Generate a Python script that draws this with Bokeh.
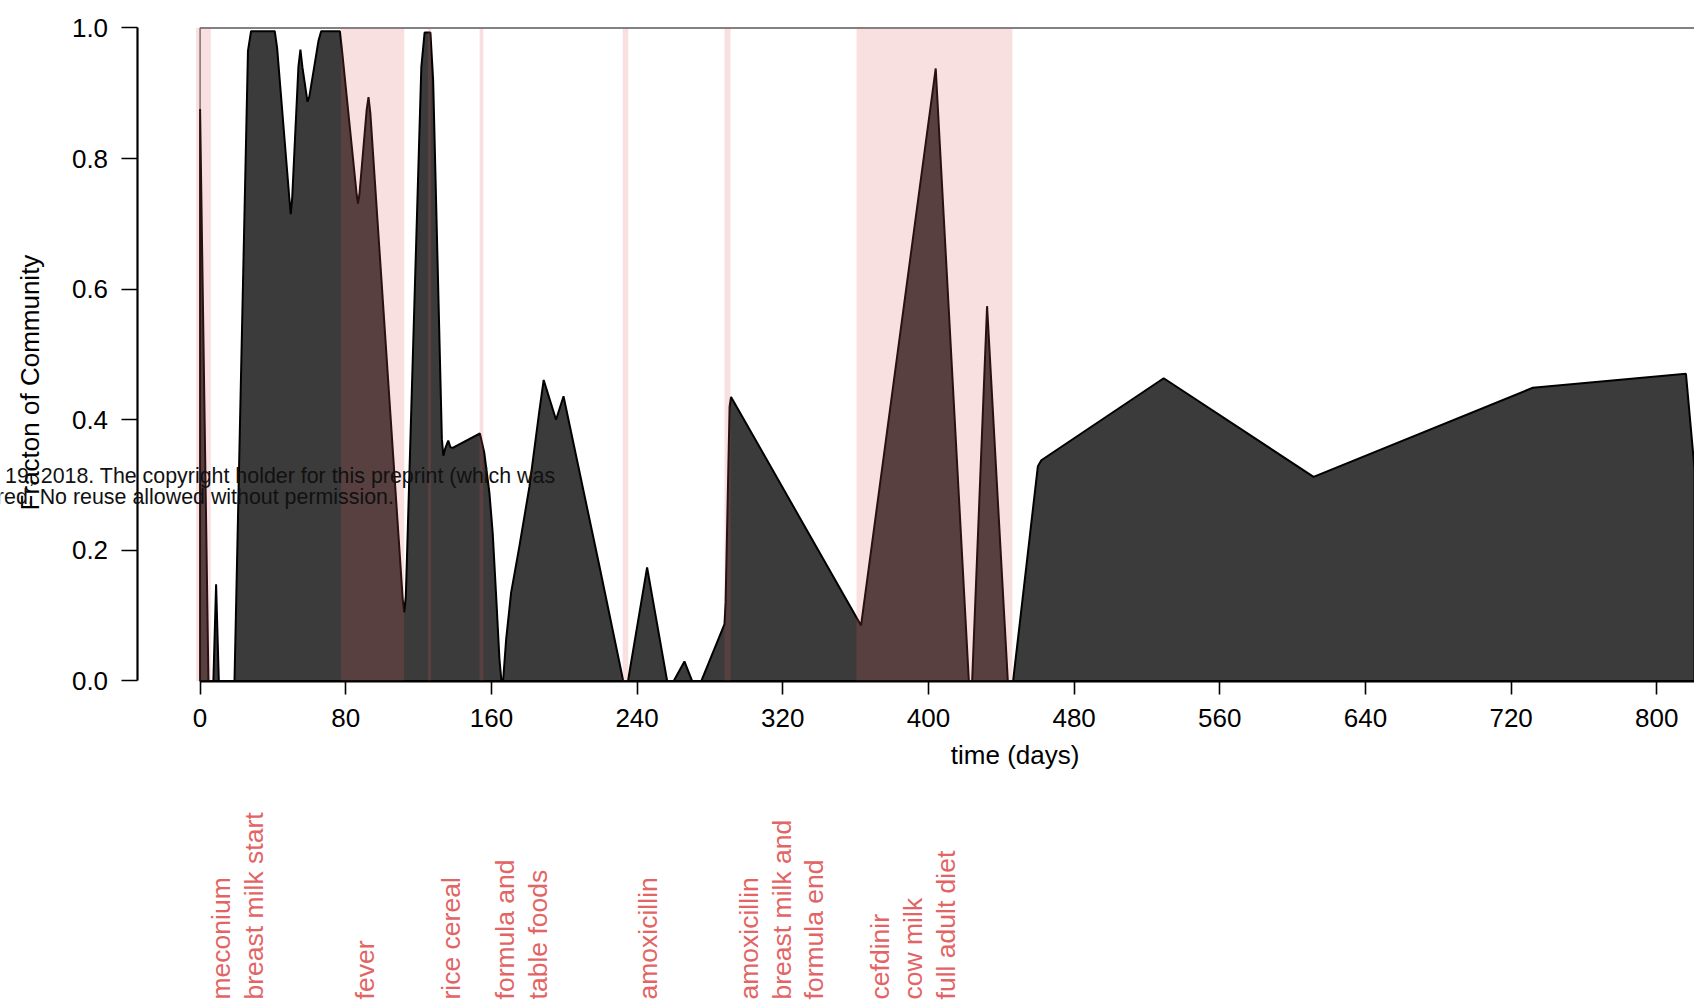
from math import pi

from bokeh.plotting import figure
from bokeh.models import Range1d, FixedTicker, PrintfTickFormatter, Label
from bokeh.embed import file_html
from bokeh.resources import INLINE

# Fraction of the community held by the dominant taxon, by sampling day
days = [0, 4.6, 7.3, 8.8, 10.3, 18.9, 26.3, 28.0, 41.0, 42.3, 49.0, 49.8, 50.6,
        54.0, 55.1, 56.2, 59.0, 60.0, 65.0, 66.5, 76.8, 77.8, 86.0, 86.7, 87.5,
        91.5, 92.5, 93.5, 111.3, 112.1, 113.0, 121.5, 123.3, 126.5, 128.0,
        132.8, 133.6, 134.5, 136.3, 137.5, 138.7, 153.7, 156.1, 158.9, 160.7,
        162.5, 164.4, 165.5, 166.4, 168.1, 170.8, 175.4, 180.9, 186.4, 188.7,
        195.5, 199.6, 219.3, 232.4, 235.0, 245.5, 256.5, 260.1, 266.0, 270.2,
        275.3, 288.0, 288.6, 290.8, 291.6, 363.0, 404.0, 422.2, 424.0, 432.2,
        443.6, 446.5, 460.1, 462.0, 529.2, 611.5, 731.9, 816.0, 820.7]
fraction = [0.876, 0.0, 0.0, 0.148, 0.0, 0.0, 0.965, 0.995, 0.995, 0.97, 0.74,
            0.715, 0.74, 0.94, 0.967, 0.94, 0.887, 0.895, 0.98, 0.995, 0.995,
            0.97, 0.745, 0.731, 0.745, 0.875, 0.894, 0.87, 0.125, 0.105, 0.13,
            0.94, 0.993, 0.993, 0.92, 0.37, 0.345, 0.355, 0.368, 0.358, 0.357,
            0.379, 0.349, 0.288, 0.227, 0.135, 0.034, 0.0, 0.0, 0.064, 0.135,
            0.207, 0.298, 0.415, 0.461, 0.40, 0.436, 0.176, 0.0, 0.0, 0.174,
            0.0, 0.0, 0.030, 0.0, 0.0, 0.087, 0.12, 0.42, 0.435, 0.085, 0.938,
            0.0, 0.0, 0.574, 0.0, 0.0, 0.329, 0.338, 0.4636, 0.3126, 0.449,
            0.4705, 0.325]

# Shaded event windows (days)
window_start = [-2.2, 77.4, 125.1, 153.5, 232.1, 288.0, 360.5]
window_end = [5.9, 112.1, 126.8, 155.6, 235.1, 291.3, 446.1]

# Event notes written under the time axis
note_days = [20.5, 90.3, 138.0, 176.7, 246.1, 319.4, 391.6]
note_lines = [["meconium", "breast milk start"],
              ["fever"],
              ["rice cereal"],
              ["formula and", "table foods"],
              ["amoxicillin"],
              ["amoxicillin", "breast milk and", "formula end"],
              ["cefdinir", "cow milk", "full adult diet"]]

x_ticks = [0, 80, 160, 240, 320, 400, 480, 560, 640, 720, 800, 880]
y_ticks = [0.0, 0.2, 0.4, 0.6, 0.8, 1.0]

FONT = "Liberation Sans"
NOTE_RED = "#E26464"
BAND_RED = (220, 90, 90)

# The data frame fills the whole canvas; the axes sit at fixed data
# locations so that margin texts can be placed in data coordinates.
p = figure(width=1694, height=1003,
           x_range=Range1d(-109.6, 820.7), y_range=Range1d(-0.4939, 1.0421),
           output_backend="svg", toolbar_location=None,
           min_border_left=0, min_border_right=0,
           min_border_top=0, min_border_bottom=0)
p.xgrid.visible = False
p.ygrid.visible = False
p.outline_line_color = None
p.background_fill_color = "white"
p.border_fill_color = "white"

# dominant taxon as a filled area
p.patch(x=days + [days[-1], days[0]], y=fraction + [0, 0],
        fill_color="#3B3B3B", line_color="black", line_width=2)

# upper edge of the stacked remainder (always sums to 1)
p.line(x=[days[0], days[0], days[-1]], y=[fraction[0], 1, 1],
       line_color="#5a5a5a", line_width=1.3)

# event windows on top
p.quad(left=window_start, right=window_end, bottom=0, top=1,
       fill_color=BAND_RED, fill_alpha=0.19, line_color=None)

# axes
xa = p.xaxis[0]
xa.ticker = FixedTicker(ticks=x_ticks)
xa.bounds = (0, 880)
xa.fixed_location = -0.0015
ya = p.yaxis[0]
ya.ticker = FixedTicker(ticks=y_ticks)
ya.formatter = PrintfTickFormatter(format="%.1f")
ya.bounds = (0, 1)
ya.fixed_location = -34.6
for ax in (xa, ya):
    ax.axis_line_width = 2.2
    ax.axis_line_color = "black"
    ax.major_tick_line_width = 1.6
    ax.major_tick_line_color = "black"
    ax.major_tick_in = 0
    ax.minor_tick_line_color = None
    ax.major_label_text_font = FONT
    ax.major_label_text_font_size = "26px"
    ax.major_label_text_color = "black"
xa.major_tick_out = 13
xa.major_label_standoff = 14
ya.major_tick_out = 16
ya.major_label_standoff = 13

# axis titles
p.add_layout(Label(x=447.6, y=-0.1141, text="time (days)", text_font=FONT,
                   text_font_size="26px", text_align="center",
                   text_baseline="middle", text_color="black"))
p.add_layout(Label(x=-93.5, y=0.4571, text="Fracton of Community", text_font=FONT,
                   text_font_size="26px", text_align="center",
                   text_baseline="middle", angle=pi / 2, text_color="black"))

# event notes, one rotated column per line
LINE_GAP = 32.7
for d, lines in zip(note_days, note_lines):
    n = len(lines)
    for i, t in enumerate(lines):
        p.add_layout(Label(x=d, y=-0.4877, text=t, text_font=FONT,
                           text_font_size="26.5px", text_color=NOTE_RED,
                           text_align="left", text_baseline="middle",
                           angle=pi / 2, x_offset=(i - (n - 1) / 2) * LINE_GAP))

# preprint notice running across the panel
p.add_layout(Label(x=-107.1, y=0.3141,
                   text="19, 2018. The copyright holder for this preprint (which was",
                   text_font=FONT, text_font_size="21.4px", text_color="#111111",
                   text_align="left", text_baseline="alphabetic"))
p.add_layout(Label(x=-111.6, y=0.2820,
                   text="red. No reuse allowed without permission.",
                   text_font=FONT, text_font_size="21.4px", text_color="#111111",
                   text_align="left", text_baseline="alphabetic"))

open("out.html", "w").write(file_html(p, INLINE))
